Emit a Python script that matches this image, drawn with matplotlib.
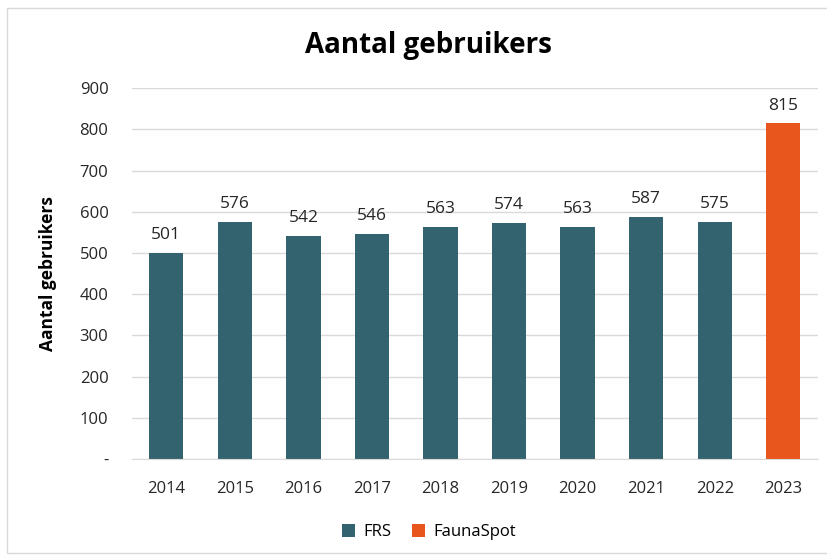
import matplotlib.pyplot as plt
from matplotlib.patches import Rectangle

years = ["2014", "2015", "2016", "2017", "2018", "2019", "2020", "2021", "2022", "2023"]
frs_years = years[:9]
frs_values = [501, 576, 542, 546, 563, 574, 563, 587, 575]
fauna_years = ["2023"]
fauna_values = [815]
y_ticks = [0, 100, 200, 300, 400, 500, 600, 700, 800, 900]
y_labels = ["-", "100", "200", "300", "400", "500", "600", "700", "800", "900"]

FRS = "#33636e"
FAUNA = "#e8561e"
GRID = "#d9d9d9"
INK = "#262626"

plt.rcParams["font.family"] = ["Open Sans", "DejaVu Sans"]

fig = plt.figure(figsize=(8.27, 5.55), dpi=100)
fig.patches.append(Rectangle((7 / 827, 2 / 555), 1.0, 545 / 555, transform=fig.transFigure,
                             facecolor="none", edgecolor=GRID, linewidth=1.0))
ax = fig.add_axes([0.1596, 0.173, 0.829, 0.668])

pos = {y: i for i, y in enumerate(years)}
b1 = ax.bar([pos[y] for y in frs_years], frs_values, width=0.5, color=FRS, label="FRS", zorder=2)
b2 = ax.bar([pos[y] for y in fauna_years], fauna_values, width=0.5, color=FAUNA, label="FaunaSpot", zorder=2)
for bars in (b1, b2):
    ax.bar_label(bars, padding=7, fontsize=12.5, color=INK)

ax.set_xlim(-0.5, len(years) - 0.5)
ax.set_ylim(0, 900)
ax.set_xticks(range(len(years)), years)
ax.set_yticks(y_ticks, y_labels)
ax.tick_params(length=0, labelsize=12, labelcolor=INK)
ax.tick_params(axis="x", pad=16)
ax.tick_params(axis="y", pad=17)
ax.grid(axis="y", color=GRID, linewidth=1, zorder=0)
for s in ["top", "right", "left"]:
    ax.spines[s].set_visible(False)
ax.spines["bottom"].set_color(GRID)

ax.set_ylabel("Aantal gebruikers", fontsize=12.5, fontweight="bold", color="black", labelpad=16)
fig.text(0.518, 0.918, "Aantal gebruikers", ha="center", va="center", fontsize=20, fontweight="bold")

ax.legend(loc="upper center", bbox_to_anchor=(0.433, -0.135), ncol=2, frameon=False,
          fontsize=12, handlelength=0.8, handleheight=0.8, columnspacing=1.2, handletextpad=0.5)

fig.savefig("out.png", dpi=100, facecolor="white")
